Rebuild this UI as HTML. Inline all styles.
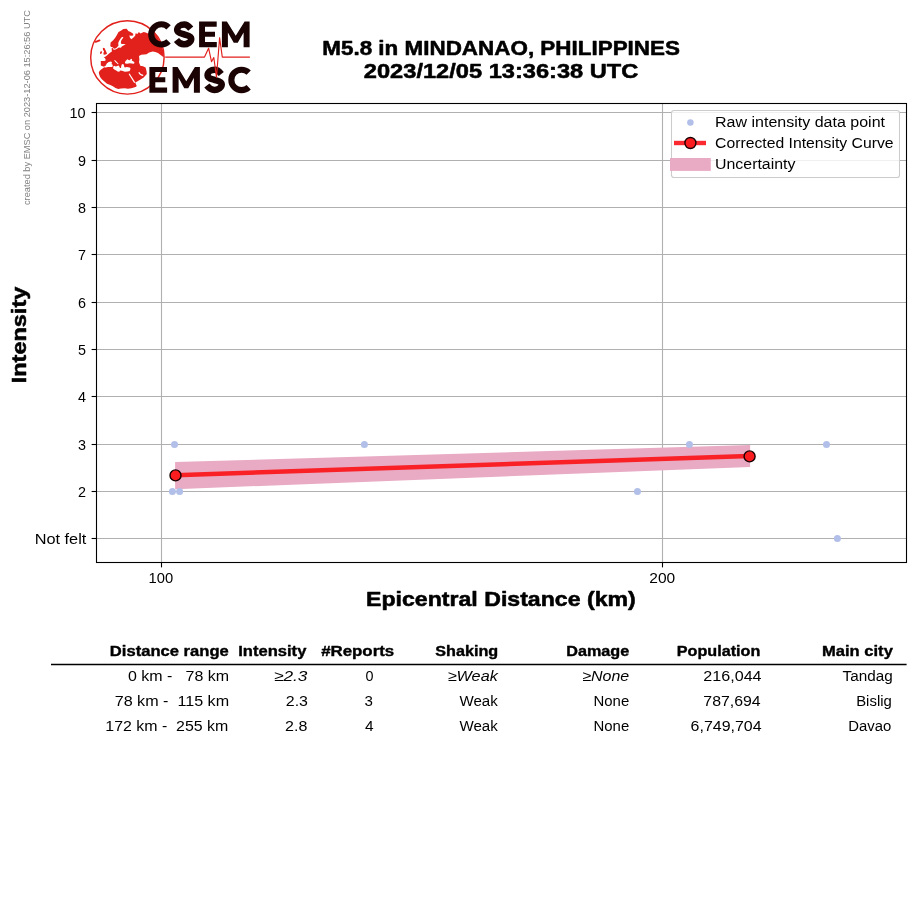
<!DOCTYPE html>
<html><head><meta charset="utf-8"><title>EMSC intensity</title>
<style>
html,body{margin:0;padding:0;background:#fff;}
body{width:915px;height:905px;overflow:hidden;font-family:"Liberation Sans",sans-serif;}
svg{display:block;will-change:transform;}
svg text{font-family:"Liberation Sans",sans-serif;}
</style></head><body>
<svg width="915" height="905" viewBox="0 0 915 905">
<rect width="915" height="905" fill="#fff"/>
<defs><clipPath id="gc"><circle cx="127.4" cy="57.4" r="36.400000000000006"/></clipPath></defs>
<g clip-path="url(#gc)"><polygon points="123.4,29.1 126.7,28.8 128.3,31.1 130.6,32.1 133.2,33.7 133.2,35.4 131.3,35.7 129.3,35.4 130.0,37.7 131.3,39.3 133.2,37.7 135.2,35.7 135.5,33.4 137.8,33.7 138.8,32.1 140.5,33.4 143.7,32.0 145.7,32.6 148.0,33.5 152.0,31.0 158.0,30.0 170.0,30.0 170.0,57.5 163.3,56.9 160.6,55.1 158.0,52.9 155.3,52.0 152.7,51.4 149.2,52.5 146.5,54.2 141.2,54.7 139.0,56.0 139.4,59.5 139.0,62.2 140.3,65.7 143.0,66.2 145.6,67.5 146.5,71.0 146.8,74.0 145.0,75.9 143.7,77.5 140.5,79.5 137.2,81.5 135.2,82.5 136.6,85.6 136.3,86.8 133.9,87.6 131.3,88.3 128.0,88.7 124.7,88.2 120.8,88.4 118.2,89.0 115.5,88.0 112.9,86.3 110.3,85.0 107.0,83.8 104.4,81.5 101.8,79.2 100.1,76.9 99.1,74.3 98.8,72.3 99.8,70.7 100.8,69.8 103.2,67.9 104.5,67.0 103.2,66.4 100.8,65.5 100.8,61.1 104.4,61.0 105.5,60.6 105.6,59.2 104.9,58.0 103.7,57.3 105.7,56.4 107.7,54.7 110.0,52.8 111.9,51.4 111.6,48.5 112.6,47.3 113.2,49.5 114.9,49.8 116.9,48.8 118.8,47.5 120.8,47.8 122.1,46.2 124.0,45.2 125.7,44.2 123.4,44.0 121.4,43.9 120.8,42.3 121.4,40.3 122.8,38.3 123.4,37.0 122.1,37.0 120.8,38.3 119.1,41.0 118.2,43.0 118.5,45.5 116.9,47.5 114.9,48.8 113.2,48.2 112.9,46.9 110.9,46.9 110.3,45.5 110.6,42.6 113.2,40.3 115.2,37.7 116.9,35.0 118.5,32.1 120.8,30.8" fill="#e2211c"/>
<polygon points="103.5,67.0 105.6,65.7 106.8,63.5 108.7,62.0 111.1,61.4 111.9,62.3 111.6,64.0 112.6,64.7 112.8,66.4 111.9,67.1 108.0,67.1 105.6,67.4" fill="#fff"/>
<polygon points="113.3,66.4 114.3,65.7 115.7,66.4 117.2,65.9 118.6,65.5 119.3,66.4 120.0,67.9 121.0,67.9 121.2,66.4 121.7,64.5 122.9,64.0 123.9,64.7 124.1,66.4 124.9,67.4 126.8,67.1 129.7,67.4 130.6,68.4 129.7,71.0 127.7,71.5 124.9,71.7 122.0,70.8 120.0,70.5 119.3,71.7 117.6,71.5 116.2,70.5 114.3,69.6 113.1,68.4" fill="#fff"/>
<polygon points="114.3,59.9 115.2,60.2 117.6,62.8 118.6,64.0 117.9,64.3 116.2,62.8 114.5,61.1" fill="#fff"/>
<polygon points="124.9,62.3 125.8,60.7 127.3,59.2 128.7,59.9 129.7,60.2 131.1,58.7 132.1,59.2 131.8,60.4 133.5,61.4 134.5,62.6 134.0,63.8 131.6,63.5 129.7,63.3 127.3,63.8 125.3,63.5" fill="#fff"/>
<line x1="129.1" y1="73.8" x2="134.7" y2="82.6" stroke="#fff" stroke-width="1.2"/>
<path d="M138.8,72.2 Q140.2,75.2 143.2,75.4" stroke="#fff" stroke-width="1.1" fill="none"/>
</g>
<polygon points="103.1,47.8 104.7,48.2 105.4,50.1 106.4,52.1 107.0,53.7 105.7,54.4 103.7,54.7 103.4,53.1 104.1,51.4 103.1,50.1 102.8,48.8" fill="#e2211c"/>
<polygon points="100.1,52.1 101.4,51.1 102.1,52.1 101.4,53.7 100.1,54.1" fill="#e2211c"/>
<line x1="95.7" y1="41.9" x2="99.6" y2="40.4" stroke="#e2211c" stroke-width="1.7" stroke-linecap="round"/>
<circle cx="127.4" cy="57.4" r="36.7" fill="none" stroke="#e2211c" stroke-width="1.45"/>
<path d="M168.57,27.34 A10.10,10.10 0 1 0 168.57,41.46" fill="none" stroke="#1b0203" stroke-width="6.1"/>
<path d="M190.75,28.65 C188.35,25.65 187.10,24.45 184.30,24.45 C180.45,24.45 177.15,26.85 177.15,30.05 C177.15,33.20 181.85,33.60 184.10,34.40 C186.35,35.20 191.25,35.80 191.25,38.75 C191.25,41.95 187.55,44.35 183.90,44.35 C180.10,44.35 178.65,42.75 176.45,39.95" fill="none" stroke="#1b0203" stroke-width="6.5"/>
<polygon points="199.10,21.60 216.70,21.60 216.70,26.70 205.00,26.70 205.00,31.75 215.00,31.75 215.00,36.65 205.00,36.65 205.00,41.90 216.80,41.90 216.80,47.20 199.10,47.20" fill="#1b0203"/>
<polygon points="221.90,47.20 221.90,21.60 226.90,21.60 235.75,35.80 244.60,21.60 249.60,21.60 249.60,47.20 243.60,47.20 243.60,32.40 237.75,42.80 233.75,42.80 227.90,32.40 227.90,47.20" fill="#1b0203"/>
<polygon points="149.40,67.00 167.00,67.00 167.00,72.10 155.30,72.10 155.30,77.25 165.30,77.25 165.30,82.15 155.30,82.15 155.30,87.50 167.10,87.50 167.10,92.80 149.40,92.80" fill="#1b0203"/>
<polygon points="172.60,92.80 172.60,67.00 177.60,67.00 186.25,81.20 194.90,67.00 199.90,67.00 199.90,92.80 193.90,92.80 193.90,77.80 188.25,88.20 184.25,88.20 178.60,77.80 178.60,92.80" fill="#1b0203"/>
<path d="M221.25,74.05 C218.85,71.05 217.55,69.85 214.75,69.85 C210.85,69.85 207.55,72.25 207.55,75.45 C207.55,78.70 212.25,79.10 214.55,79.90 C216.85,80.70 221.75,81.30 221.75,84.35 C221.75,87.55 218.05,89.95 214.35,89.95 C210.55,89.95 209.05,88.35 206.85,85.55" fill="none" stroke="#1b0203" stroke-width="6.5"/>
<path d="M248.66,72.59 A10.20,10.20 0 1 0 248.66,87.21" fill="none" stroke="#1b0203" stroke-width="6.1"/>
<polyline points="165.2,57.1 204.5,57.1 208.6,48.2 211.5,61.7 213.8,57.5 216.5,77.2 219.6,37.7 222.3,57.1 249.9,57.1" fill="none" stroke="#e2211c" stroke-width="1.15" stroke-linejoin="round"/>
<line x1="96.5" x2="906.5" y1="538.50" y2="538.50" stroke="#b0b0b0" stroke-width="1.1"/>
<line x1="91.6" x2="96.5" y1="538.50" y2="538.50" stroke="#000" stroke-width="1.1"/>
<line x1="96.5" x2="906.5" y1="491.50" y2="491.50" stroke="#b0b0b0" stroke-width="1.1"/>
<line x1="91.6" x2="96.5" y1="491.50" y2="491.50" stroke="#000" stroke-width="1.1"/>
<line x1="96.5" x2="906.5" y1="444.50" y2="444.50" stroke="#b0b0b0" stroke-width="1.1"/>
<line x1="91.6" x2="96.5" y1="444.50" y2="444.50" stroke="#000" stroke-width="1.1"/>
<line x1="96.5" x2="906.5" y1="396.50" y2="396.50" stroke="#b0b0b0" stroke-width="1.1"/>
<line x1="91.6" x2="96.5" y1="396.50" y2="396.50" stroke="#000" stroke-width="1.1"/>
<line x1="96.5" x2="906.5" y1="349.50" y2="349.50" stroke="#b0b0b0" stroke-width="1.1"/>
<line x1="91.6" x2="96.5" y1="349.50" y2="349.50" stroke="#000" stroke-width="1.1"/>
<line x1="96.5" x2="906.5" y1="302.50" y2="302.50" stroke="#b0b0b0" stroke-width="1.1"/>
<line x1="91.6" x2="96.5" y1="302.50" y2="302.50" stroke="#000" stroke-width="1.1"/>
<line x1="96.5" x2="906.5" y1="254.50" y2="254.50" stroke="#b0b0b0" stroke-width="1.1"/>
<line x1="91.6" x2="96.5" y1="254.50" y2="254.50" stroke="#000" stroke-width="1.1"/>
<line x1="96.5" x2="906.5" y1="207.50" y2="207.50" stroke="#b0b0b0" stroke-width="1.1"/>
<line x1="91.6" x2="96.5" y1="207.50" y2="207.50" stroke="#000" stroke-width="1.1"/>
<line x1="96.5" x2="906.5" y1="160.50" y2="160.50" stroke="#b0b0b0" stroke-width="1.1"/>
<line x1="91.6" x2="96.5" y1="160.50" y2="160.50" stroke="#000" stroke-width="1.1"/>
<line x1="96.5" x2="906.5" y1="112.50" y2="112.50" stroke="#b0b0b0" stroke-width="1.1"/>
<line x1="91.6" x2="96.5" y1="112.50" y2="112.50" stroke="#000" stroke-width="1.1"/>
<line x1="161.5" x2="161.5" y1="103.5" y2="562.5" stroke="#b0b0b0" stroke-width="1.1"/>
<line x1="161.5" x2="161.5" y1="562.5" y2="567.4" stroke="#000" stroke-width="1.1"/>
<line x1="662.5" x2="662.5" y1="103.5" y2="562.5" stroke="#b0b0b0" stroke-width="1.1"/>
<line x1="662.5" x2="662.5" y1="562.5" y2="567.4" stroke="#000" stroke-width="1.1"/>
<polygon points="175.1,462.1 750.1,445.0 750.1,466.9 175.1,489.2" fill="#e9aac4"/>
<circle cx="174.5" cy="444.5" r="3.5" fill="#b2bfe9"/>
<circle cx="172.4" cy="491.5" r="3.5" fill="#b2bfe9"/>
<circle cx="179.6" cy="491.5" r="3.5" fill="#b2bfe9"/>
<circle cx="364.4" cy="444.5" r="3.5" fill="#b2bfe9"/>
<circle cx="689.45" cy="444.5" r="3.5" fill="#b2bfe9"/>
<circle cx="826.5" cy="444.5" r="3.5" fill="#b2bfe9"/>
<circle cx="637.45" cy="491.5" r="3.5" fill="#b2bfe9"/>
<circle cx="837.4" cy="538.5" r="3.5" fill="#b2bfe9"/>
<line x1="175.5" y1="475.25" x2="749.5" y2="455.9" stroke="#f92026" stroke-width="4.5" stroke-linecap="butt"/>
<circle cx="175.5" cy="475.4" r="5.5" fill="#fb1c20" stroke="#1a0000" stroke-width="1.4"/>
<circle cx="749.6" cy="456.4" r="5.5" fill="#fb1c20" stroke="#1a0000" stroke-width="1.4"/>
<rect x="96.5" y="103.5" width="810.0" height="459.0" fill="none" stroke="#000" stroke-width="1.1"/>
<rect x="671.5" y="110.5" width="228" height="67" rx="2.6" ry="2.6" fill="#fff" fill-opacity="0.8" stroke="#cccccc" stroke-width="1.05"/>
<circle cx="690.4" cy="122.4" r="3.25" fill="#b2bfe9"/>
<line x1="674" y1="143" x2="706" y2="143" stroke="#fa2a30" stroke-width="4.4"/>
<circle cx="690.4" cy="143" r="5.5" fill="#fb1c20" stroke="#1a0000" stroke-width="1.4"/>
<rect x="670" y="158" width="40.8" height="12.9" fill="#e9aac4"/>
<text x="715.00" y="127.30" font-size="14.7" font-weight="normal" font-style="normal" fill="#000" textLength="170.00" lengthAdjust="spacingAndGlyphs" >Raw intensity data point</text>
<text x="715.00" y="148.00" font-size="14.7" font-weight="normal" font-style="normal" fill="#000" textLength="178.60" lengthAdjust="spacingAndGlyphs" >Corrected Intensity Curve</text>
<text x="715.00" y="168.80" font-size="14.7" font-weight="normal" font-style="normal" fill="#000" textLength="80.50" lengthAdjust="spacingAndGlyphs" >Uncertainty</text>
<text x="77.90" y="496.60" font-size="14.7" font-weight="normal" font-style="normal" fill="#000" textLength="8.00" lengthAdjust="spacingAndGlyphs" >2</text>
<text x="77.90" y="449.60" font-size="14.7" font-weight="normal" font-style="normal" fill="#000" textLength="8.00" lengthAdjust="spacingAndGlyphs" >3</text>
<text x="77.90" y="401.60" font-size="14.7" font-weight="normal" font-style="normal" fill="#000" textLength="8.00" lengthAdjust="spacingAndGlyphs" >4</text>
<text x="77.90" y="354.60" font-size="14.7" font-weight="normal" font-style="normal" fill="#000" textLength="8.00" lengthAdjust="spacingAndGlyphs" >5</text>
<text x="77.90" y="307.60" font-size="14.7" font-weight="normal" font-style="normal" fill="#000" textLength="8.00" lengthAdjust="spacingAndGlyphs" >6</text>
<text x="77.90" y="259.60" font-size="14.7" font-weight="normal" font-style="normal" fill="#000" textLength="8.00" lengthAdjust="spacingAndGlyphs" >7</text>
<text x="77.90" y="212.60" font-size="14.7" font-weight="normal" font-style="normal" fill="#000" textLength="8.00" lengthAdjust="spacingAndGlyphs" >8</text>
<text x="77.90" y="165.60" font-size="14.7" font-weight="normal" font-style="normal" fill="#000" textLength="8.00" lengthAdjust="spacingAndGlyphs" >9</text>
<text x="69.40" y="117.60" font-size="14.7" font-weight="normal" font-style="normal" fill="#000" textLength="16.10" lengthAdjust="spacingAndGlyphs" >10</text>
<text x="34.70" y="543.60" font-size="14.7" font-weight="normal" font-style="normal" fill="#000" textLength="51.60" lengthAdjust="spacingAndGlyphs" >Not felt</text>
<text x="148.60" y="582.80" font-size="14.7" font-weight="normal" font-style="normal" fill="#000" textLength="24.60" lengthAdjust="spacingAndGlyphs" >100</text>
<text x="649.30" y="582.80" font-size="14.7" font-weight="normal" font-style="normal" fill="#000" textLength="25.90" lengthAdjust="spacingAndGlyphs" >200</text>
<text x="366.05" y="606.40" font-size="20.5" font-weight="bold" font-style="normal" fill="#000" textLength="269.70" lengthAdjust="spacingAndGlyphs"  stroke="#000" stroke-width="0.55" stroke-linejoin="round">Epicentral Distance (km)</text>
<g transform="translate(26.2,382.8) rotate(-90)">
<text x="-0.45" y="0.00" font-size="20.5" font-weight="bold" font-style="normal" fill="#000" textLength="96.50" lengthAdjust="spacingAndGlyphs"  stroke="#000" stroke-width="0.55" stroke-linejoin="round">Intensity</text>
</g>
<text x="322.25" y="54.90" font-size="20.5" font-weight="bold" font-style="normal" fill="#000" textLength="357.70" lengthAdjust="spacingAndGlyphs"  stroke="#000" stroke-width="0.55" stroke-linejoin="round">M5.8 in MINDANAO, PHILIPPINES</text>
<text x="363.85" y="77.60" font-size="20.5" font-weight="bold" font-style="normal" fill="#000" textLength="274.50" lengthAdjust="spacingAndGlyphs"  stroke="#000" stroke-width="0.55" stroke-linejoin="round">2023/12/05 13:36:38 UTC</text>
<g transform="translate(30.4,204.7) rotate(-90)">
<text x="-0.30" y="0.00" font-size="8.8" font-weight="normal" font-style="normal" fill="#808080" textLength="194.90" lengthAdjust="spacingAndGlyphs" >created by EMSC on 2023-12-06 15:26:56 UTC</text>
</g>
<text x="109.85" y="656.00" font-size="14.7" font-weight="bold" font-style="normal" fill="#000" textLength="118.90" lengthAdjust="spacingAndGlyphs"  stroke="#000" stroke-width="0.38" stroke-linejoin="round">Distance range</text>
<text x="238.25" y="656.00" font-size="14.7" font-weight="bold" font-style="normal" fill="#000" textLength="68.10" lengthAdjust="spacingAndGlyphs"  stroke="#000" stroke-width="0.38" stroke-linejoin="round">Intensity</text>
<text x="321.15" y="656.00" font-size="14.7" font-weight="bold" font-style="normal" fill="#000" textLength="73.10" lengthAdjust="spacingAndGlyphs"  stroke="#000" stroke-width="0.38" stroke-linejoin="round">#Reports</text>
<text x="435.25" y="656.00" font-size="14.7" font-weight="bold" font-style="normal" fill="#000" textLength="62.90" lengthAdjust="spacingAndGlyphs"  stroke="#000" stroke-width="0.38" stroke-linejoin="round">Shaking</text>
<text x="566.25" y="656.00" font-size="14.7" font-weight="bold" font-style="normal" fill="#000" textLength="63.00" lengthAdjust="spacingAndGlyphs"  stroke="#000" stroke-width="0.38" stroke-linejoin="round">Damage</text>
<text x="676.85" y="656.00" font-size="14.7" font-weight="bold" font-style="normal" fill="#000" textLength="83.50" lengthAdjust="spacingAndGlyphs"  stroke="#000" stroke-width="0.38" stroke-linejoin="round">Population</text>
<text x="822.05" y="656.00" font-size="14.7" font-weight="bold" font-style="normal" fill="#000" textLength="70.80" lengthAdjust="spacingAndGlyphs"  stroke="#000" stroke-width="0.38" stroke-linejoin="round">Main city</text>
<line x1="51.0" x2="906.6" y1="664.5" y2="664.5" stroke="#000" stroke-width="1.4"/>
<text x="127.9" y="680.9" font-size="14.7" xml:space="preserve" textLength="101.2" lengthAdjust="spacingAndGlyphs">0 km -   78 km</text>
<text x="114.7" y="705.75" font-size="14.7" xml:space="preserve" textLength="114.4" lengthAdjust="spacingAndGlyphs">78 km -  115 km</text>
<text x="105.3" y="730.7" font-size="14.7" xml:space="preserve" textLength="123" lengthAdjust="spacingAndGlyphs">172 km -  255 km</text>
<text x="274.00" y="680.90" font-size="14.7" font-weight="normal" font-style="italic" fill="#000" textLength="33.40" lengthAdjust="spacingAndGlyphs" >≥2.3</text>
<text x="285.80" y="705.75" font-size="14.7" font-weight="normal" font-style="normal" fill="#000" textLength="22.20" lengthAdjust="spacingAndGlyphs" >2.3</text>
<text x="285.10" y="730.70" font-size="14.7" font-weight="normal" font-style="normal" fill="#000" textLength="22.30" lengthAdjust="spacingAndGlyphs" >2.8</text>
<text x="365.50" y="680.90" font-size="14.7" font-weight="normal" font-style="normal" fill="#000" textLength="8.00" lengthAdjust="spacingAndGlyphs" >0</text>
<text x="364.50" y="705.75" font-size="14.7" font-weight="normal" font-style="normal" fill="#000" textLength="8.40" lengthAdjust="spacingAndGlyphs" >3</text>
<text x="364.90" y="730.70" font-size="14.7" font-weight="normal" font-style="normal" fill="#000" textLength="8.60" lengthAdjust="spacingAndGlyphs" >4</text>
<text x="447.70" y="680.90" font-size="14.7" font-weight="normal" font-style="italic" fill="#000" textLength="50.10" lengthAdjust="spacingAndGlyphs" >≥Weak</text>
<text x="459.50" y="705.75" font-size="14.7" font-weight="normal" font-style="normal" fill="#000" textLength="38.30" lengthAdjust="spacingAndGlyphs" >Weak</text>
<text x="459.50" y="730.70" font-size="14.7" font-weight="normal" font-style="normal" fill="#000" textLength="38.30" lengthAdjust="spacingAndGlyphs" >Weak</text>
<text x="582.20" y="680.90" font-size="14.7" font-weight="normal" font-style="italic" fill="#000" textLength="47.00" lengthAdjust="spacingAndGlyphs" >≥None</text>
<text x="593.50" y="705.75" font-size="14.7" font-weight="normal" font-style="normal" fill="#000" textLength="35.70" lengthAdjust="spacingAndGlyphs" >None</text>
<text x="593.50" y="730.70" font-size="14.7" font-weight="normal" font-style="normal" fill="#000" textLength="35.70" lengthAdjust="spacingAndGlyphs" >None</text>
<text x="703.30" y="680.90" font-size="14.7" font-weight="normal" font-style="normal" fill="#000" textLength="58.30" lengthAdjust="spacingAndGlyphs" >216,044</text>
<text x="703.30" y="705.75" font-size="14.7" font-weight="normal" font-style="normal" fill="#000" textLength="57.40" lengthAdjust="spacingAndGlyphs" >787,694</text>
<text x="690.60" y="730.70" font-size="14.7" font-weight="normal" font-style="normal" fill="#000" textLength="71.00" lengthAdjust="spacingAndGlyphs" >6,749,704</text>
<text x="842.60" y="680.90" font-size="14.7" font-weight="normal" font-style="normal" fill="#000" textLength="50.10" lengthAdjust="spacingAndGlyphs" >Tandag</text>
<text x="856.20" y="705.75" font-size="14.7" font-weight="normal" font-style="normal" fill="#000" textLength="35.60" lengthAdjust="spacingAndGlyphs" >Bislig</text>
<text x="848.30" y="730.70" font-size="14.7" font-weight="normal" font-style="normal" fill="#000" textLength="43.00" lengthAdjust="spacingAndGlyphs" >Davao</text>
</svg>
</body></html>
